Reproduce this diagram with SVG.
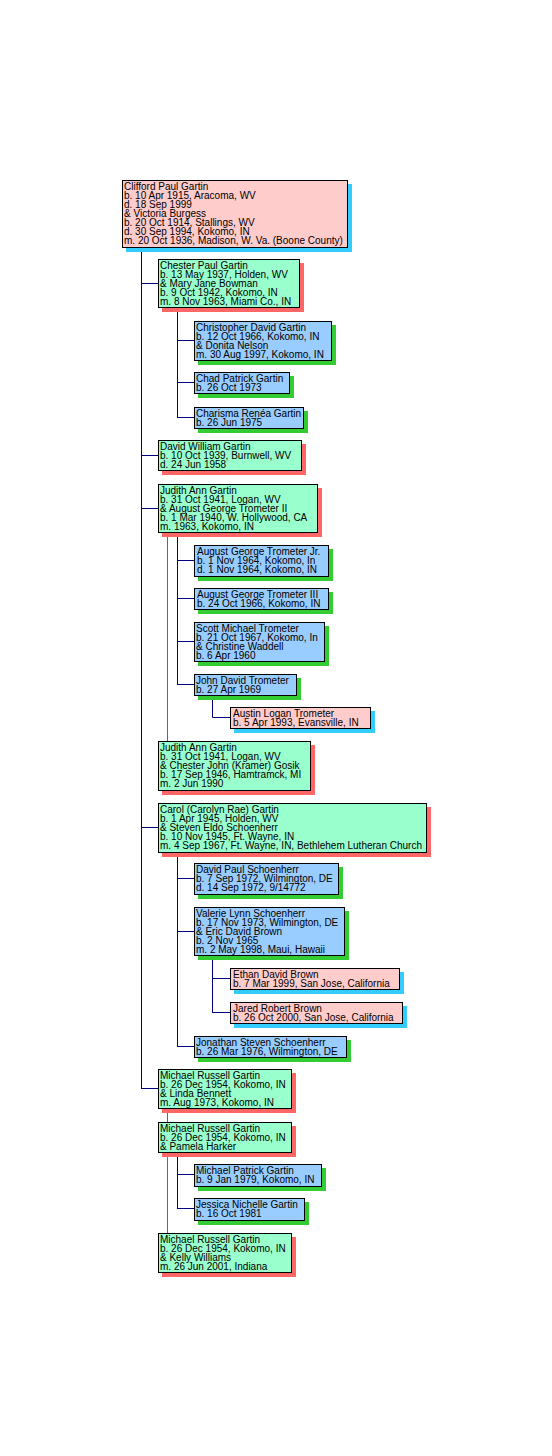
<svg xmlns="http://www.w3.org/2000/svg" width="552" height="1456" viewBox="0 0 552 1456">
<style>
.bg{fill:#ffffff}
.box{stroke:#000000;stroke-width:1}
.pink .box{fill:#ffcccc}
.pink .sh{fill:#33ccff}
.mint .box{fill:#99ffcc}
.mint .sh{fill:#ff6666}
.blue .box{fill:#99ccff}
.blue .sh{fill:#33cc33}
text{font-family:"Liberation Sans",Arial,sans-serif;font-size:10px;fill:#000000}
.c{stroke:#000080;stroke-width:1;fill:none}
.g{stroke:#229922;stroke-width:1;fill:none}
</style>
<rect class="bg" x="0" y="0" width="552" height="1456"/>
<g id="connectors">
<path class="c" d="M141.5 247V1088.5M141 283.5H158M141 455.5H158M141 508.5H158M141 827.5H158M141 1088.5H158"/>
<path class="c" d="M177.5 307V417.5M177 340.5H194M177 382.5H194M177 417.5H194"/>
<path class="c" d="M177.5 533V684.5M177 560.5H194M177 598.5H194M177 641.5H194M177 684.5H194"/>
<path class="c" d="M212.5 695V717.5H230"/>
<path class="c" d="M177.5 852V1046.5M177 878.5H194M177 931.5H194M177 1046.5H194"/>
<path class="c" d="M212.5 955V1012.5M212 978.5H230M212 1012.5H230"/>
<path class="c" d="M177.5 1152V1208.5M177 1174.5H194M177 1208.5H194"/>
<path class="g" d="M167.5 533V741M167.5 1108V1233"/>
</g>
<g id="n-clifford" class="pink">
<rect class="sh" x="126" y="184" width="226" height="68"/>
<rect class="box" x="122.5" y="180.5" width="225" height="67"/>
<text x="124" y="190"><tspan x="124" y="190">Clifford Paul Gartin</tspan><tspan x="124" y="199">b. 10 Apr 1915, Aracoma, WV</tspan><tspan x="124" y="208">d. 18 Sep 1999</tspan><tspan x="124" y="217">&amp; Victoria Burgess</tspan><tspan x="124" y="226">b. 20 Oct 1914, Stallings, WV</tspan><tspan x="124" y="235">d. 30 Sep 1994, Kokomo, IN</tspan><tspan x="124" y="244">m. 20 Oct 1936, Madison, W. Va. (Boone County)</tspan></text>
</g>
<g id="n-chester" class="mint">
<rect class="sh" x="162" y="263" width="142" height="49"/>
<rect class="box" x="158.5" y="259.5" width="141" height="48"/>
<text><tspan x="160" y="269">Chester Paul Gartin</tspan><tspan x="160" y="278">b. 13 May 1937, Holden, WV</tspan><tspan x="160" y="287">&amp; Mary Jane Bowman</tspan><tspan x="160" y="296">b. 9 Oct 1942, Kokomo, IN</tspan><tspan x="160" y="305">m. 8 Nov 1963, Miami Co., IN</tspan></text>
</g>
<g id="n-christopher" class="blue">
<rect class="sh" x="198" y="325" width="138" height="40"/>
<rect class="box" x="194.5" y="321.5" width="137" height="39"/>
<text><tspan x="196" y="331">Christopher David Gartin</tspan><tspan x="196" y="340">b. 12 Oct 1966, Kokomo, IN</tspan><tspan x="196" y="349">&amp; Donita Nelson</tspan><tspan x="196" y="358">m. 30 Aug 1997, Kokomo, IN</tspan></text>
</g>
<g id="n-chad" class="blue">
<rect class="sh" x="198" y="376" width="96" height="22"/>
<rect class="box" x="194.5" y="372.5" width="95" height="21"/>
<text><tspan x="196" y="382">Chad Patrick Gartin</tspan><tspan x="196" y="391">b. 26 Oct 1973</tspan></text>
</g>
<g id="n-charisma" class="blue">
<rect class="sh" x="198" y="411" width="110" height="22"/>
<rect class="box" x="194.5" y="407.5" width="109" height="21"/>
<text><tspan x="196" y="417">Charisma Renéa Gartin</tspan><tspan x="196" y="426">b. 26 Jun 1975</tspan></text>
</g>
<g id="n-david" class="mint">
<rect class="sh" x="162" y="444" width="144" height="31"/>
<rect class="box" x="158.5" y="440.5" width="143" height="30"/>
<text><tspan x="160" y="450">David William Gartin</tspan><tspan x="160" y="459">b. 10 Oct 1939, Burnwell, WV</tspan><tspan x="160" y="468">d. 24 Jun 1958</tspan></text>
</g>
<g id="n-judith1" class="mint">
<rect class="sh" x="162" y="488" width="160" height="49"/>
<rect class="box" x="158.5" y="484.5" width="159" height="48"/>
<text><tspan x="160" y="494">Judith Ann Gartin</tspan><tspan x="160" y="503">b. 31 Oct 1941, Logan, WV</tspan><tspan x="160" y="512">&amp; August George Trometer II</tspan><tspan x="160" y="521">b. 1 Mar 1940, W. Hollywood, CA</tspan><tspan x="160" y="530">m. 1963, Kokomo, IN</tspan></text>
</g>
<g id="n-augjr" class="blue">
<rect class="sh" x="198" y="549" width="135" height="32"/>
<rect class="box" x="194.5" y="545.5" width="134" height="31"/>
<text><tspan x="197" y="555">August George Trometer Jr.</tspan><tspan x="197" y="564">b. 1 Nov 1964, Kokomo, In</tspan><tspan x="197" y="573">d. 1 Nov 1964, Kokomo, IN</tspan></text>
</g>
<g id="n-aug3" class="blue">
<rect class="sh" x="198" y="592" width="135" height="22"/>
<rect class="box" x="194.5" y="588.5" width="134" height="21"/>
<text><tspan x="197" y="598">August George Trometer III</tspan><tspan x="197" y="607">b. 24 Oct 1966, Kokomo, IN</tspan></text>
</g>
<g id="n-scott" class="blue">
<rect class="sh" x="198" y="626" width="131" height="40"/>
<rect class="box" x="194.5" y="622.5" width="130" height="39"/>
<text><tspan x="196" y="632">Scott Michael Trometer</tspan><tspan x="196" y="641">b. 21 Oct 1967, Kokomo, In</tspan><tspan x="196" y="650">&amp; Christine Waddell</tspan><tspan x="196" y="659">b. 6 Apr 1960</tspan></text>
</g>
<g id="n-john" class="blue">
<rect class="sh" x="198" y="678" width="103" height="22"/>
<rect class="box" x="194.5" y="674.5" width="102" height="21"/>
<text><tspan x="196" y="684">John David Trometer</tspan><tspan x="196" y="693">b. 27 Apr 1969</tspan></text>
</g>
<g id="n-austin" class="pink">
<rect class="sh" x="234" y="711" width="141" height="22"/>
<rect class="box" x="230.5" y="707.5" width="140" height="21"/>
<text><tspan x="233" y="717">Austin Logan Trometer</tspan><tspan x="233" y="726">b. 5 Apr 1993, Evansville, IN</tspan></text>
</g>
<g id="n-judith2" class="mint">
<rect class="sh" x="162" y="745" width="153" height="50"/>
<rect class="box" x="158.5" y="741.5" width="152" height="49"/>
<text><tspan x="160" y="751">Judith Ann Gartin</tspan><tspan x="160" y="760">b. 31 Oct 1941, Logan, WV</tspan><tspan x="160" y="769">&amp; Chester John (Kramer) Gosik</tspan><tspan x="160" y="778">b. 17 Sep 1946, Hamtramck, MI</tspan><tspan x="160" y="787">m. 2 Jun 1990</tspan></text>
</g>
<g id="n-carol" class="mint">
<rect class="sh" x="162" y="807" width="269" height="50"/>
<rect class="box" x="158.5" y="803.5" width="268" height="49"/>
<text><tspan x="160" y="813">Carol (Carolyn Rae) Gartin</tspan><tspan x="160" y="822">b. 1 Apr 1945, Holden, WV</tspan><tspan x="160" y="831">&amp; Steven Eldo Schoenherr</tspan><tspan x="160" y="840">b. 10 Nov 1945, Ft. Wayne, IN</tspan><tspan x="160" y="849">m. 4 Sep 1967, Ft. Wayne, IN, Bethlehem Lutheran Church</tspan></text>
</g>
<g id="n-davidpaul" class="blue">
<rect class="sh" x="198" y="867" width="145" height="32"/>
<rect class="box" x="194.5" y="863.5" width="144" height="31"/>
<text><tspan x="196" y="873">David Paul Schoenherr</tspan><tspan x="196" y="882">b. 7 Sep 1972, Wilmington, DE</tspan><tspan x="196" y="891">d. 14 Sep 1972, 9/14772</tspan></text>
</g>
<g id="n-valerie" class="blue">
<rect class="sh" x="198" y="911" width="151" height="49"/>
<rect class="box" x="194.5" y="907.5" width="150" height="48"/>
<text><tspan x="196" y="917">Valerie Lynn Schoenherr</tspan><tspan x="196" y="926">b. 17 Nov 1973, Wilmington, DE</tspan><tspan x="196" y="935">&amp; Eric David Brown</tspan><tspan x="196" y="944">b. 2 Nov 1965</tspan><tspan x="196" y="953">m. 2 May 1998, Maui, Hawaii</tspan></text>
</g>
<g id="n-ethan" class="pink">
<rect class="sh" x="234" y="972" width="170" height="22"/>
<rect class="box" x="230.5" y="968.5" width="169" height="21"/>
<text><tspan x="233" y="978">Ethan David Brown</tspan><tspan x="233" y="987">b. 7 Mar 1999, San Jose, California</tspan></text>
</g>
<g id="n-jared" class="pink">
<rect class="sh" x="234" y="1006" width="173" height="22"/>
<rect class="box" x="230.5" y="1002.5" width="172" height="21"/>
<text><tspan x="233" y="1012">Jared Robert Brown</tspan><tspan x="233" y="1021">b. 26 Oct 2000, San Jose, California</tspan></text>
</g>
<g id="n-jonathan" class="blue">
<rect class="sh" x="198" y="1040" width="153" height="22"/>
<rect class="box" x="194.5" y="1036.5" width="152" height="21"/>
<text><tspan x="196" y="1046">Jonathan Steven Schoenherr</tspan><tspan x="196" y="1055">b. 26 Mar 1976, Wilmington, DE</tspan></text>
</g>
<g id="n-michael1" class="mint">
<rect class="sh" x="162" y="1073" width="134" height="40"/>
<rect class="box" x="158.5" y="1069.5" width="133" height="39"/>
<text><tspan x="160" y="1079">Michael Russell Gartin</tspan><tspan x="160" y="1088">b. 26 Dec 1954, Kokomo, IN</tspan><tspan x="160" y="1097">&amp; Linda Bennett</tspan><tspan x="160" y="1106">m. Aug 1973, Kokomo, IN</tspan></text>
</g>
<g id="n-michael2" class="mint">
<rect class="sh" x="162" y="1126" width="134" height="31"/>
<rect class="box" x="158.5" y="1122.5" width="133" height="30"/>
<text><tspan x="160" y="1132">Michael Russell Gartin</tspan><tspan x="160" y="1141">b. 26 Dec 1954, Kokomo, IN</tspan><tspan x="160" y="1150">&amp; Pamela Harker</tspan></text>
</g>
<g id="n-mpatrick" class="blue">
<rect class="sh" x="198" y="1168" width="128" height="23"/>
<rect class="box" x="194.5" y="1164.5" width="127" height="22"/>
<text><tspan x="196" y="1174">Michael Patrick Gartin</tspan><tspan x="196" y="1183">b. 9 Jan 1979, Kokomo, IN</tspan></text>
</g>
<g id="n-jessica" class="blue">
<rect class="sh" x="198" y="1202" width="111" height="23"/>
<rect class="box" x="194.5" y="1198.5" width="110" height="22"/>
<text><tspan x="196" y="1208">Jessica Nichelle Gartin</tspan><tspan x="196" y="1217">b. 16 Oct 1981</tspan></text>
</g>
<g id="n-michael3" class="mint">
<rect class="sh" x="162" y="1237" width="134" height="40"/>
<rect class="box" x="158.5" y="1233.5" width="133" height="39"/>
<text><tspan x="160" y="1243">Michael Russell Gartin</tspan><tspan x="160" y="1252">b. 26 Dec 1954, Kokomo, IN</tspan><tspan x="160" y="1261">&amp; Kelly Williams</tspan><tspan x="160" y="1270">m. 26 Jun 2001, Indiana</tspan></text>
</g>
</svg>
